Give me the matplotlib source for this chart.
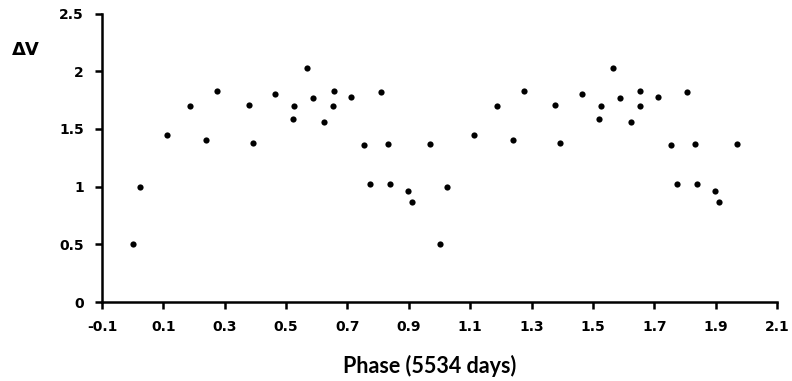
import matplotlib
matplotlib.use("Agg")
import matplotlib.pyplot as plt
import numpy as np

# one cycle of phase / delta V values, plotted twice (phase and phase + 1)
phase = [0.000, 0.025, 0.112, 0.187, 0.239, 0.275, 0.378, 0.392, 0.463,
         0.521, 0.525, 0.567, 0.587, 0.623, 0.652, 0.655, 0.711, 0.755,
         0.775, 0.808, 0.833, 0.840, 0.898, 0.911, 0.969]
delta_v = [0.50, 1.00, 1.45, 1.70, 1.40, 1.83, 1.71, 1.38, 1.80,
           1.59, 1.70, 2.03, 1.77, 1.56, 1.70, 1.83, 1.78, 1.36,
           1.02, 1.82, 1.37, 1.02, 0.96, 0.87, 1.37]

x_ticks = [-0.1, 0.1, 0.3, 0.5, 0.7, 0.9, 1.1, 1.3, 1.5, 1.7, 1.9, 2.1]
y_ticks = [0, 0.5, 1, 1.5, 2, 2.5]

fig = plt.figure(figsize=(7.92, 3.81), dpi=100)
ax = fig.add_axes([102 / 792, 79 / 381, 675 / 792, 288.4 / 381])

ph = np.array(phase)
dv = np.array(delta_v)
ax.scatter(np.concatenate([ph, ph + 1]), np.concatenate([dv, dv]),
           s=20, color="black", linewidths=0, zorder=3)

ax.set_xlim(-0.1, 2.1)
ax.set_ylim(0, 2.5)
ax.set_xticks(x_ticks)
ax.set_xticklabels([f"{t:.1f}" for t in x_ticks])
ax.set_yticks(y_ticks)
ax.set_yticklabels(["0", "0.5", "1", "1.5", "2", "2.5"])

for side in ["top", "right"]:
    ax.spines[side].set_visible(False)
for side in ["left", "bottom"]:
    ax.spines[side].set_linewidth(1.8)

ax.tick_params(direction="out", length=5, width=1.8, labelsize=10, pad=8)
for lab in ax.get_xticklabels() + ax.get_yticklabels():
    lab.set_fontfamily("DejaVu Sans")
    lab.set_fontweight("bold")

ax.set_xlabel("Phase (5534 days)", fontsize=15.5, fontweight="bold",
              fontfamily="Lato", labelpad=15)
ax.xaxis.label.set_x((430 - 102) / 675)
fig.text(12 / 792, 1 - 55 / 381, "ΔV", fontsize=13, fontweight="bold",
         fontfamily="DejaVu Sans", ha="left", va="baseline")

fig.savefig("out.png", dpi=100)
